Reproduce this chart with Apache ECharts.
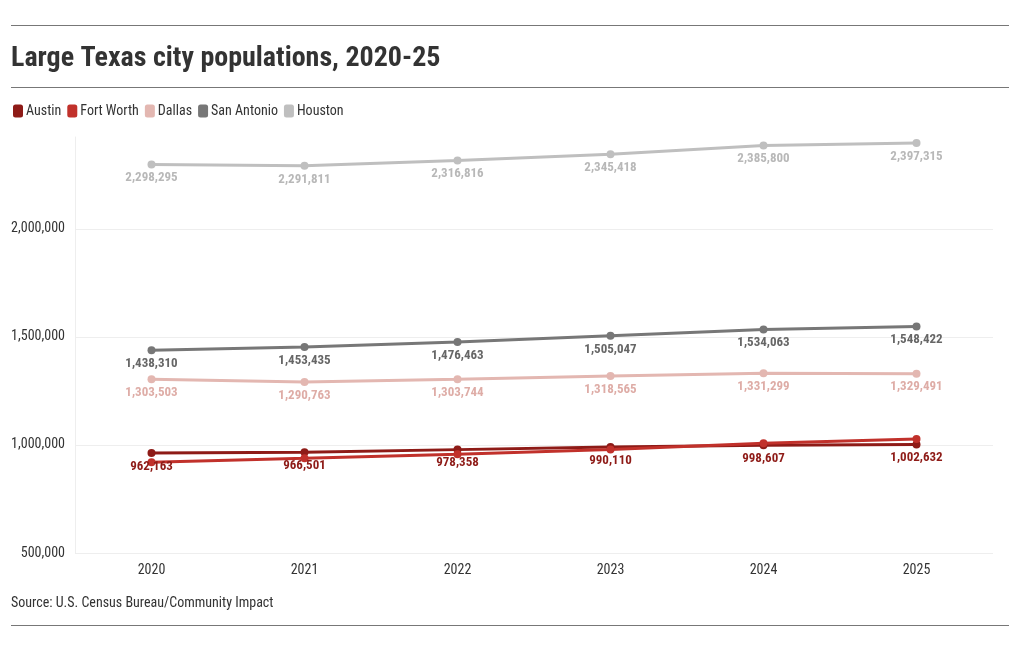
<!DOCTYPE html>
<html>
<head>
<meta charset="utf-8">
<script src="https://cdn.jsdelivr.net/npm/echarts@6/dist/echarts.min.js"></script>
<style>html,body{margin:0;padding:0;background:#fff}#c{width:1020px;height:650px}</style>
</head>
<body>
<div id="c"></div>
<script>
const years = ['2020', '2021', '2022', '2023', '2024', '2025'];
const austin = [962163, 966501, 978358, 990110, 998607, 1002632];
const fortWorth = [920000, 938000, 957000, 979000, 1008000, 1028000];
const dallas = [1303503, 1290763, 1303744, 1318565, 1331299, 1329491];
const sanAntonio = [1438310, 1453435, 1476463, 1505047, 1534063, 1548422];
const houston = [2298295, 2291811, 2316816, 2345418, 2385800, 2397315];

const FONT = "'Roboto Condensed', Roboto, sans-serif";
const ST = 'condensed';
const fmt = v => Math.round(v).toLocaleString('en-US');

function mk(name, data, color, labelColor, showLabel) {
  return {
    name, type: 'line', data,
    symbol: 'circle', symbolSize: 8,
    lineStyle: { color, width: 3 },
    itemStyle: { color },
    label: {
      show: showLabel, position: 'bottom', distance: 3,
      color: labelColor, fontFamily: FONT, fontStyle: ST, fontWeight: 'bold', fontSize: 13,
      formatter: p => fmt(p.value)
    },
    emphasis: { disabled: true }
  };
}

const chart = echarts.init(document.getElementById('c'));
chart.setOption({
  animation: false,
  textStyle: { fontFamily: FONT, fontStyle: ST },
  grid: { left: 75, right: 27, top: 137, bottom: 97, containLabel: false, outerBoundsMode: 'none' },
  graphic: [
    { type: 'line', shape: { x1: 11, y1: 25.5, x2: 1009, y2: 25.5 }, style: { stroke: '#777', lineWidth: 1 } },
    { type: 'line', shape: { x1: 11, y1: 87.5, x2: 1009, y2: 87.5 }, style: { stroke: '#777', lineWidth: 1 } },
    { type: 'line', shape: { x1: 11, y1: 625.5, x2: 1009, y2: 625.5 }, style: { stroke: '#777', lineWidth: 1 } },
    { type: 'text', left: 11, top: 45, style: { text: 'Large Texas city populations, 2020-25', fill: '#333', font: "condensed bold 28px " + FONT } },
    { type: 'text', left: 11, top: 596, style: { text: 'Source: U.S. Census Bureau/Community Impact', fill: '#333', font: "condensed 14px " + FONT } }
  ],
  legend: {
    left: 8, top: 99, icon: 'roundRect', itemWidth: 10, itemHeight: 13, itemGap: 6,
    textStyle: { fontFamily: FONT, fontStyle: ST, fontSize: 14, color: '#333', padding: [0, 0, 0, -2] },
    data: ['Austin', 'Fort Worth', 'Dallas', 'San Antonio', 'Houston']
  },
  xAxis: {
    type: 'category', data: years, boundaryGap: true,
    axisLine: { show: false }, axisTick: { show: false },
    axisLabel: { color: '#333', fontSize: 14, fontFamily: FONT, fontStyle: ST, margin: 10 }
  },
  yAxis: {
    type: 'value', min: 500000, max: 2425000, interval: 500000,
    axisLine: { show: true, lineStyle: { color: '#eee' } },
    axisTick: { show: false },
    axisLabel: {
      color: '#333', fontSize: 14, fontFamily: FONT, fontStyle: ST, margin: 10,
      padding: [4, 0, 0, 0],
      formatter: v => (v % 500000 === 0 ? fmt(v) : '')
    },
    splitLine: { lineStyle: { color: ['#eee', '#eee', '#eee', '#eee', 'rgba(0,0,0,0)'] } }
  },
  series: [
    mk('Austin', austin, '#8e1b17', '#8e1b17', true),
    mk('Fort Worth', fortWorth, '#c1312b', '#c1312b', false),
    mk('Dallas', dallas, '#e3b7b1', '#deaca6', true),
    mk('San Antonio', sanAntonio, '#777777', '#666666', true),
    mk('Houston', houston, '#bfbfbf', '#b8b8b8', true)
  ]
});
</script>
</body>
</html>
